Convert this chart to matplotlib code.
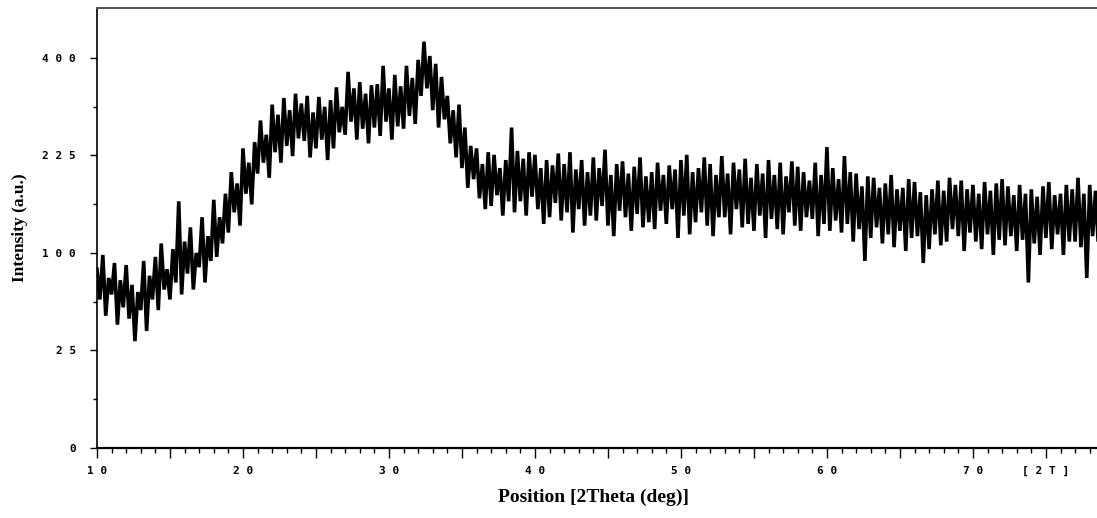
import numpy as np
import matplotlib.pyplot as plt

# ------------------------------------------------------------
# XRD scan (2theta from 10 deg, step 0.2 deg)
# ------------------------------------------------------------
two_theta_start = 10.0
two_theta_step = 0.2

# one row per degree: values at d.0, d.2, d.4, d.6, d.8
intensity = [
    84, 58, 98, 46, 76,        # 10
    62, 90, 40, 74, 52,        # 11
    88, 44, 70, 30, 64,        # 12
    50, 92, 36, 78, 58,        # 13
    96, 50, 110, 66, 84,       # 14
    58, 104, 72, 160, 62,      # 15
    112, 80, 128, 66, 100,     # 16
    86, 140, 72, 118, 92,      # 17
    162, 96, 140, 110, 170,    # 18
    122, 200, 146, 184, 130,   # 19
    236, 170, 214, 156, 246,   # 20
    198, 282, 214, 258, 192,   # 21
    310, 230, 292, 214, 322,   # 22
    240, 300, 224, 330, 252,   # 23
    312, 248, 326, 222, 296,   # 24
    236, 324, 250, 306, 218,   # 25
    318, 236, 342, 262, 306,   # 26
    258, 372, 280, 340, 250,   # 27
    352, 268, 330, 244, 346,   # 28
    270, 348, 256, 384, 280,   # 29
    340, 250, 366, 272, 344,   # 30
    268, 384, 290, 360, 276,   # 31
    396, 326, 434, 340, 404,   # 32
    300, 388, 270, 362, 284,   # 33
    326, 244, 300, 222, 310,   # 34
    206, 270, 178, 240, 190,   # 35
    236, 164, 212, 150, 230,   # 36
    154, 226, 168, 206, 142,   # 37
    218, 160, 270, 146, 232,   # 38
    160, 220, 142, 230, 166,   # 39
    226, 150, 206, 132, 218,   # 40
    140, 210, 158, 228, 136,   # 41
    212, 146, 230, 122, 204,   # 42
    150, 218, 130, 200, 142,   # 43
    222, 136, 206, 154, 234,   # 44
    130, 196, 118, 212, 148,   # 45
    216, 140, 198, 124, 208,   # 46
    144, 222, 128, 194, 134,   # 47
    200, 126, 214, 148, 196,   # 48
    132, 210, 150, 204, 116,   # 49
    218, 142, 226, 120, 200,   # 50
    134, 206, 146, 222, 130,   # 51
    212, 118, 196, 140, 224,   # 52
    140, 198, 120, 214, 150,   # 53
    204, 128, 220, 132, 192,   # 54
    124, 212, 142, 198, 116,   # 55
    218, 138, 196, 126, 214,   # 56
    120, 194, 146, 216, 130,   # 57
    208, 124, 200, 140, 188,   # 58
    138, 214, 118, 196, 132,   # 59
    238, 124, 206, 136, 190,   # 60
    122, 224, 132, 200, 112,   # 61
    198, 126, 180, 92, 194,    # 62
    116, 192, 128, 178, 110,   # 63
    184, 120, 196, 106, 176,   # 64
    124, 178, 102, 190, 116,   # 65
    186, 118, 172, 90, 168,    # 66
    104, 176, 120, 188, 108,   # 67
    174, 112, 192, 126, 182,   # 68
    118, 188, 102, 176, 122,   # 69
    182, 112, 170, 104, 186,   # 70
    120, 174, 98, 184, 114,    # 71
    190, 108, 180, 118, 168,   # 72
    102, 182, 114, 170, 72,    # 73
    176, 110, 166, 98, 180,    # 74
    116, 186, 104, 168, 120,   # 75
    170, 98, 182, 112, 176,    # 76
    112, 192, 106, 170, 76,    # 77
    182, 118, 174, 104, 170,   # 78
]

# axis ticks (intensity axis is square-root scaled)
y_major = [0, 25, 100, 225, 400]
y_major_labels = ["0", "2 5", "1 0 0", "2 2 5", "4 0 0"]
y_minor = [6.25, 56.25, 156.25, 306.25]

x_major = [10, 15, 20, 25, 30, 35, 40, 45, 50, 55, 60, 65, 70, 75]
x_major_labels = ["1 0", "", "2 0", "", "3 0", "", "4 0", "", "5 0", "",
                  "6 0", "", "7 0", "[ 2 T ]"]
x_minor = list(range(10, 79))

x_limits = (10, 78.5)
y_limits = (0, 509)


def sqrt_fwd(v):
    return np.sqrt(np.clip(v, 0, None))


def sqrt_inv(v):
    return np.square(v)


# ------------------------------------------------------------
# Plot
# ------------------------------------------------------------
fig = plt.figure(figsize=(10.97, 5.18), dpi=100)
ax = fig.add_axes([0.0884, 0.1351, 0.9116, 0.8495])

two_theta = two_theta_start + two_theta_step * np.arange(len(intensity))
ax.plot(two_theta, intensity, color="black", lw=2.6, solid_joinstyle="miter")

ax.set_yscale("function", functions=(sqrt_fwd, sqrt_inv))
ax.set_xlim(*x_limits)
ax.set_ylim(*y_limits)

tick_font = {"family": "DejaVu Sans Mono", "weight": "bold", "size": 8}

ax.set_yticks(y_major)
ax.set_yticklabels(y_major_labels, fontdict=tick_font)
ax.set_yticks(y_minor, minor=True)
ax.set_xticks(x_major)
ax.set_xticklabels(x_major_labels, fontdict=tick_font)
ax.set_xticks(x_minor, minor=True)

ax.tick_params(axis="y", which="major", direction="out", length=5, width=1, pad=10)
ax.tick_params(axis="y", which="minor", direction="out", length=3, width=1)
ax.tick_params(axis="x", which="major", direction="out", length=7, width=1, pad=6)
ax.tick_params(axis="x", which="minor", direction="out", length=3.5, width=1)

ax.spines["right"].set_visible(False)
ax.spines["top"].set_color("#555555")
ax.spines["top"].set_linewidth(1.5)
ax.spines["left"].set_linewidth(1.2)
ax.spines["bottom"].set_linewidth(1.6)

fig.text(593 / 1097, 1 - 497 / 518, "Position [2Theta (deg)]",
         family="Liberation Serif", weight="bold", size=14,
         ha="center", va="center")
fig.text(20 / 1097, 1 - 228 / 518, "Intensity (a.u.)",
         family="Liberation Serif", weight="bold", size=12.5,
         rotation=90, ha="center", va="center")

fig.savefig("out.png", dpi=100)
